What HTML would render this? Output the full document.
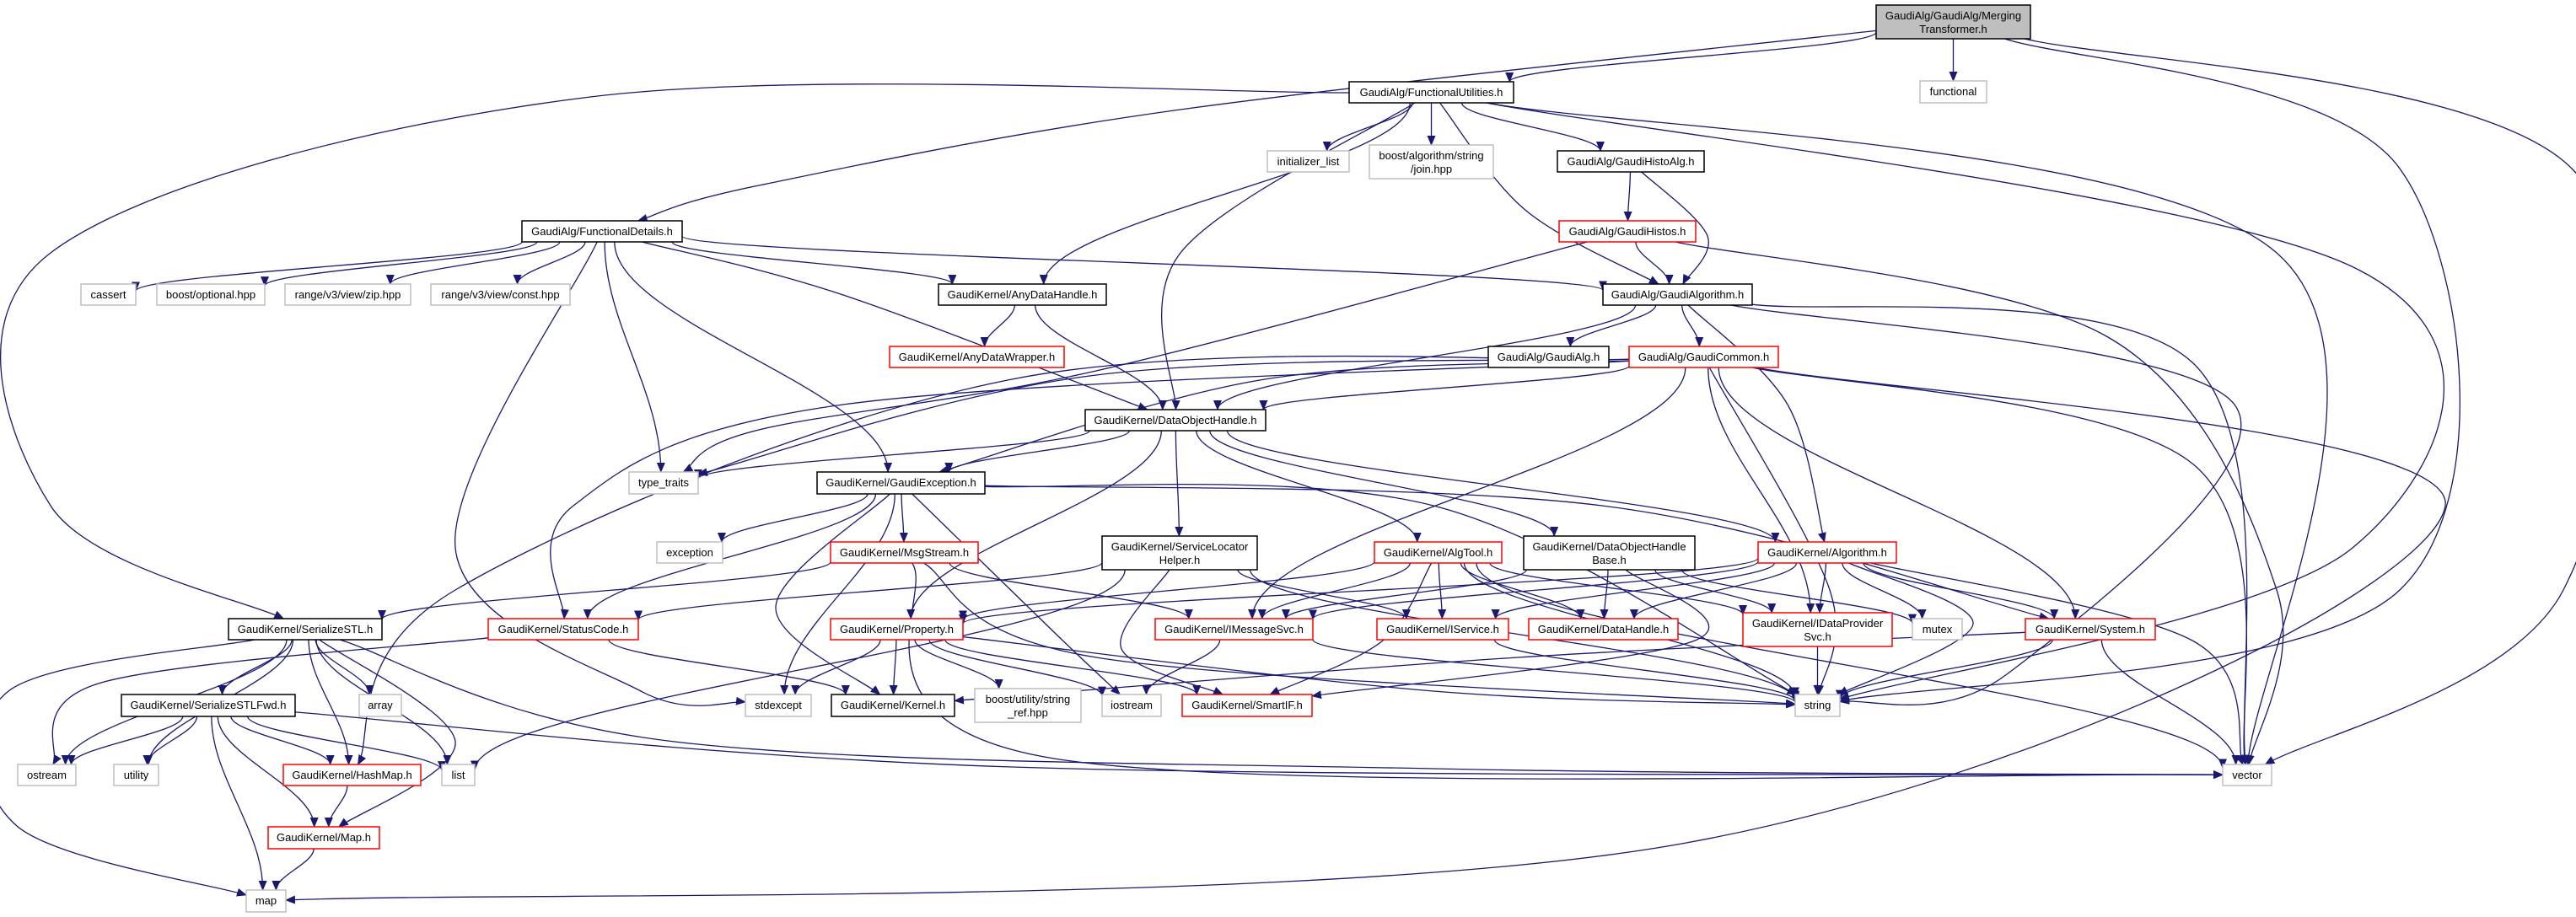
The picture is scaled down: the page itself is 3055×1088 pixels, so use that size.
<!DOCTYPE html>
<html><head><meta charset="utf-8"><style>
html,body{margin:0;padding:0;background:#fff;}
svg{display:block;}
text{font-family:"Liberation Sans",Arial,sans-serif;font-size:13px;fill:#000;}
</style></head><body>
<svg id="g" width="3055" height="1088" viewBox="0 0 3055 1088" xmlns="http://www.w3.org/2000/svg">
<defs><marker id="ah" markerWidth="12" markerHeight="10" refX="11" refY="5" orient="auto" markerUnits="userSpaceOnUse"><path d="M0,0 L12,5 L0,10 z" fill="#191970"/></marker></defs>
<g id="edges" fill="none" stroke="#191970" stroke-width="1.3"></g>
<g id="nodes">
<rect x="2225" y="6" width="183" height="40" fill="#bfbfbf" stroke="#000" stroke-width="1.5"/><text x="2316.5" y="23" text-anchor="middle">GaudiAlg/GaudiAlg/Merging</text><text x="2316.5" y="39" text-anchor="middle">Transformer.h</text>
<rect x="1600" y="97" width="195" height="25" fill="#fff" stroke="#000" stroke-width="1.5"/><text x="1697.5" y="114" text-anchor="middle">GaudiAlg/FunctionalUtilities.h</text>
<rect x="619" y="262" width="190" height="25" fill="#fff" stroke="#000" stroke-width="1.5"/><text x="714" y="279" text-anchor="middle">GaudiAlg/FunctionalDetails.h</text>
<rect x="2277" y="96" width="79" height="26" fill="#fff" stroke="#bfbfbf" stroke-width="1.5"/><text x="2316.5" y="113" text-anchor="middle">functional</text>
<rect x="1503" y="179" width="97" height="25" fill="#fff" stroke="#bfbfbf" stroke-width="1.5"/><text x="1551.5" y="196" text-anchor="middle">initializer_list</text>
<rect x="1624" y="172" width="147" height="40" fill="#fff" stroke="#bfbfbf" stroke-width="1.5"/><text x="1697.5" y="189" text-anchor="middle">boost/algorithm/string</text><text x="1697.5" y="205" text-anchor="middle">/join.hpp</text>
<rect x="1847" y="179" width="174" height="25" fill="#fff" stroke="#000" stroke-width="1.5"/><text x="1934" y="196" text-anchor="middle">GaudiAlg/GaudiHistoAlg.h</text>
<rect x="1849" y="262" width="162" height="25" fill="#fff" stroke="#f00" stroke-width="1.5"/><text x="1930" y="279" text-anchor="middle">GaudiAlg/GaudiHistos.h</text>
<rect x="96" y="337" width="65" height="25" fill="#fff" stroke="#bfbfbf" stroke-width="1.5"/><text x="128.5" y="354" text-anchor="middle">cassert</text>
<rect x="186" y="337" width="128" height="25" fill="#fff" stroke="#bfbfbf" stroke-width="1.5"/><text x="250" y="354" text-anchor="middle">boost/optional.hpp</text>
<rect x="338" y="337" width="149" height="25" fill="#fff" stroke="#bfbfbf" stroke-width="1.5"/><text x="412.5" y="354" text-anchor="middle">range/v3/view/zip.hpp</text>
<rect x="511" y="337" width="165" height="25" fill="#fff" stroke="#bfbfbf" stroke-width="1.5"/><text x="593.5" y="354" text-anchor="middle">range/v3/view/const.hpp</text>
<rect x="1113" y="337" width="199" height="25" fill="#fff" stroke="#000" stroke-width="1.5"/><text x="1212.5" y="354" text-anchor="middle">GaudiKernel/AnyDataHandle.h</text>
<rect x="1901" y="337" width="177" height="25" fill="#fff" stroke="#000" stroke-width="1.5"/><text x="1989.5" y="354" text-anchor="middle">GaudiAlg/GaudiAlgorithm.h</text>
<rect x="1055" y="411" width="207" height="25" fill="#fff" stroke="#f00" stroke-width="1.5"/><text x="1158.5" y="428" text-anchor="middle">GaudiKernel/AnyDataWrapper.h</text>
<rect x="1765" y="411" width="143" height="25" fill="#fff" stroke="#000" stroke-width="1.5"/><text x="1836.5" y="428" text-anchor="middle">GaudiAlg/GaudiAlg.h</text>
<rect x="1932" y="411" width="177" height="25" fill="#fff" stroke="#f00" stroke-width="1.5"/><text x="2020.5" y="428" text-anchor="middle">GaudiAlg/GaudiCommon.h</text>
<rect x="1287" y="486" width="214" height="25" fill="#fff" stroke="#000" stroke-width="1.5"/><text x="1394" y="503" text-anchor="middle">GaudiKernel/DataObjectHandle.h</text>
<rect x="746" y="560" width="82" height="26" fill="#fff" stroke="#bfbfbf" stroke-width="1.5"/><text x="787" y="577" text-anchor="middle">type_traits</text>
<rect x="969" y="560" width="199" height="26" fill="#fff" stroke="#000" stroke-width="1.5"/><text x="1068.5" y="577" text-anchor="middle">GaudiKernel/GaudiException.h</text>
<rect x="779" y="643" width="78" height="25" fill="#fff" stroke="#bfbfbf" stroke-width="1.5"/><text x="818" y="660" text-anchor="middle">exception</text>
<rect x="985" y="643" width="175" height="25" fill="#fff" stroke="#f00" stroke-width="1.5"/><text x="1072.5" y="660" text-anchor="middle">GaudiKernel/MsgStream.h</text>
<rect x="1307" y="636" width="184" height="40" fill="#fff" stroke="#000" stroke-width="1.5"/><text x="1399" y="653" text-anchor="middle">GaudiKernel/ServiceLocator</text><text x="1399" y="669" text-anchor="middle">Helper.h</text>
<rect x="1630" y="643" width="151" height="25" fill="#fff" stroke="#f00" stroke-width="1.5"/><text x="1705.5" y="660" text-anchor="middle">GaudiKernel/AlgTool.h</text>
<rect x="1807" y="636" width="203" height="40" fill="#fff" stroke="#000" stroke-width="1.5"/><text x="1908.5" y="653" text-anchor="middle">GaudiKernel/DataObjectHandle</text><text x="1908.5" y="669" text-anchor="middle">Base.h</text>
<rect x="2085" y="643" width="164" height="25" fill="#fff" stroke="#f00" stroke-width="1.5"/><text x="2167" y="660" text-anchor="middle">GaudiKernel/Algorithm.h</text>
<rect x="271" y="734" width="182" height="25" fill="#fff" stroke="#000" stroke-width="1.5"/><text x="362" y="751" text-anchor="middle">GaudiKernel/SerializeSTL.h</text>
<rect x="579" y="734" width="178" height="25" fill="#fff" stroke="#f00" stroke-width="1.5"/><text x="668" y="751" text-anchor="middle">GaudiKernel/StatusCode.h</text>
<rect x="985" y="734" width="157" height="25" fill="#fff" stroke="#f00" stroke-width="1.5"/><text x="1063.5" y="751" text-anchor="middle">GaudiKernel/Property.h</text>
<rect x="1370" y="734" width="187" height="25" fill="#fff" stroke="#f00" stroke-width="1.5"/><text x="1463.5" y="751" text-anchor="middle">GaudiKernel/IMessageSvc.h</text>
<rect x="1633" y="734" width="156" height="25" fill="#fff" stroke="#f00" stroke-width="1.5"/><text x="1711" y="751" text-anchor="middle">GaudiKernel/IService.h</text>
<rect x="1813" y="734" width="177" height="25" fill="#fff" stroke="#f00" stroke-width="1.5"/><text x="1901.5" y="751" text-anchor="middle">GaudiKernel/DataHandle.h</text>
<rect x="2067" y="727" width="177" height="40" fill="#fff" stroke="#f00" stroke-width="1.5"/><text x="2155.5" y="744" text-anchor="middle">GaudiKernel/IDataProvider</text><text x="2155.5" y="760" text-anchor="middle">Svc.h</text>
<rect x="2268" y="734" width="59" height="25" fill="#fff" stroke="#bfbfbf" stroke-width="1.5"/><text x="2297.5" y="751" text-anchor="middle">mutex</text>
<rect x="2402" y="734" width="154" height="25" fill="#fff" stroke="#f00" stroke-width="1.5"/><text x="2479" y="751" text-anchor="middle">GaudiKernel/System.h</text>
<rect x="144" y="824" width="206" height="26" fill="#fff" stroke="#000" stroke-width="1.5"/><text x="247" y="841" text-anchor="middle">GaudiKernel/SerializeSTLFwd.h</text>
<rect x="426" y="824" width="50" height="26" fill="#fff" stroke="#bfbfbf" stroke-width="1.5"/><text x="451" y="841" text-anchor="middle">array</text>
<rect x="884" y="824" width="78" height="26" fill="#fff" stroke="#bfbfbf" stroke-width="1.5"/><text x="923" y="841" text-anchor="middle">stdexcept</text>
<rect x="986" y="824" width="146" height="26" fill="#fff" stroke="#000" stroke-width="1.5"/><text x="1059" y="841" text-anchor="middle">GaudiKernel/Kernel.h</text>
<rect x="1156" y="817" width="126" height="40" fill="#fff" stroke="#bfbfbf" stroke-width="1.5"/><text x="1219" y="834" text-anchor="middle">boost/utility/string</text><text x="1219" y="850" text-anchor="middle">_ref.hpp</text>
<rect x="1307" y="824" width="70" height="26" fill="#fff" stroke="#bfbfbf" stroke-width="1.5"/><text x="1342" y="841" text-anchor="middle">iostream</text>
<rect x="1402" y="824" width="154" height="26" fill="#fff" stroke="#f00" stroke-width="1.5"/><text x="1479" y="841" text-anchor="middle">GaudiKernel/SmartIF.h</text>
<rect x="2129" y="824" width="53" height="26" fill="#fff" stroke="#bfbfbf" stroke-width="1.5"/><text x="2155.5" y="841" text-anchor="middle">string</text>
<rect x="21" y="907" width="69" height="25" fill="#fff" stroke="#bfbfbf" stroke-width="1.5"/><text x="55.5" y="924" text-anchor="middle">ostream</text>
<rect x="135" y="907" width="53" height="25" fill="#fff" stroke="#bfbfbf" stroke-width="1.5"/><text x="161.5" y="924" text-anchor="middle">utility</text>
<rect x="336" y="907" width="163" height="25" fill="#fff" stroke="#f00" stroke-width="1.5"/><text x="417.5" y="924" text-anchor="middle">GaudiKernel/HashMap.h</text>
<rect x="524" y="907" width="39" height="25" fill="#fff" stroke="#bfbfbf" stroke-width="1.5"/><text x="543.5" y="924" text-anchor="middle">list</text>
<rect x="2636" y="907" width="58" height="25" fill="#fff" stroke="#bfbfbf" stroke-width="1.5"/><text x="2665" y="924" text-anchor="middle">vector</text>
<rect x="318" y="981" width="132" height="26" fill="#fff" stroke="#f00" stroke-width="1.5"/><text x="384" y="998" text-anchor="middle">GaudiKernel/Map.h</text>
<rect x="292" y="1056" width="47" height="26" fill="#fff" stroke="#bfbfbf" stroke-width="1.5"/><text x="315.5" y="1073" text-anchor="middle">map</text>
</g>
</svg>
<script>
var N={MT:[2225,6,2408,46],FU:[1600,97,1795,122],FD:[619,262,809,287],functional:[2277,96,2356,122],init:[1503,179,1600,204],join:[1624,172,1771,212],GHA:[1847,179,2021,204],GH:[1849,262,2011,287],cassert:[96,337,161,362],optional:[186,337,314,362],zip:[338,337,487,362],cnst:[511,337,676,362],ADH:[1113,337,1312,362],GA:[1901,337,2078,362],ADW:[1055,411,1262,436],GAlg:[1765,411,1908,436],GC:[1932,411,2109,436],DOH:[1287,486,1501,511],tt:[746,560,828,586],GE:[969,560,1168,586],exc:[779,643,857,668],MS:[985,643,1160,668],SLH:[1307,636,1491,676],AT:[1630,643,1781,668],DOHB:[1807,636,2010,676],ALG:[2085,643,2249,668],SS:[271,734,453,759],SC:[579,734,757,759],PR:[985,734,1142,759],IMS:[1370,734,1557,759],IS:[1633,734,1789,759],DH:[1813,734,1990,759],IDP:[2067,727,2244,767],mutex:[2268,734,2327,759],SYS:[2402,734,2556,759],SSF:[144,824,350,850],array:[426,824,476,850],stdexcept:[884,824,962,850],KER:[986,824,1132,850],sref:[1156,817,1282,857],iostream:[1307,824,1377,850],SIF:[1402,824,1556,850],string:[2129,824,2182,850],ostream:[21,907,90,932],utility:[135,907,188,932],HM:[336,907,499,932],list:[524,907,563,932],vector:[2636,907,2694,932],MAP:[318,981,450,1007],map:[292,1056,339,1082]};
var E=[
["MT","FU"],["MT","FD",[[1400,130],[900,220]]],["MT","functional"],["MT","string",[[2846,200],[2846,700]]],["MT","vector",[[3050,200],[3040,700]]],
["FU","SS",[[700,115],[60,300],[60,600]]],["FU","ADH"],["FU","DOH",[[1400,300]]],["FU","init"],["FU","join"],["FU","GHA"],["FU","GA",[[1810,250]]],["FU","string",[[2797,320],[2790,650]]],["FU","vector",[[2700,300]]],
["FD","cassert"],["FD","optional"],["FD","zip"],["FD","cnst"],["FD","GA"],["FD","ADH"],["FD","DOH",[[1000,350]]],["FD","GE"],["FD","tt"],["FD","stdexcept",[[540,650],[760,820]]],
["GHA","GH"],["GHA","GA",[[2025,280]]],
["GH","GA"],["GH","tt",[[1300,440],[900,510]]],["GH","vector",[[2500,400],[2700,700]]],
["ADH","ADW"],["ADH","DOH"],
["GA","GAlg"],["GA","GC"],["GA","DOH"],["GA","ALG",[[2120,480]]],["GA","string",[[2650,480],[2380,800]]],["GA","vector",[[2600,430]]],
["GC","DOH"],["GC","GE",[[1500,450]]],["GC","SC",[[1000,480],[680,600]]],["GC","HM",[[1200,450],[540,700]]],["GC","tt",[[1300,445]]],["GC","IMS"],["GC","IDP"],["GC","SYS"],["GC","string",[[2170,700]]],["GC","vector",[[2600,550]]],["GC","map",[[2900,600],[2000,1000]]],
["DOH","tt"],["DOH","GE"],["DOH","SLH"],["DOH","AT"],["DOH","DOHB"],["DOH","ALG"],["DOH","PR"],
["GE","exc"],["GE","MS"],["GE","SC"],["GE","KER",[[920,720]]],["GE","stdexcept"],["GE","iostream",[[1250,750]]],["GE","string",[[1700,600]]],["GE","SYS",[[1900,600]]],
["MS","SS"],["MS","IMS"],["MS","string",[[1300,780]]],["MS","vector",[[1250,900]]],
["SLH","SC"],["SLH","IS"],["SLH","SIF",[[1330,770]]],["SLH","string"],["SLH","list"],
["AT","IMS"],["AT","IS"],["AT","DH"],["AT","IDP"],["AT","PR"],["AT","SIF",[[1640,760]]],["AT","vector"],["AT","string"],
["DOHB","IMS"],["DOHB","DH"],["DOHB","mutex"],["DOHB","IDP"],["DOHB","SIF",[[2010,760]]],
["ALG","IMS"],["ALG","IS"],["ALG","DH"],["ALG","IDP"],["ALG","mutex"],["ALG","SYS"],["ALG","string",[[2340,740]]],["ALG","vector",[[2600,760]]],["ALG","PR"],
["IDP","string"],["SYS","KER",[[1800,780]]],["SYS","string"],["SYS","vector"],
["PR","stdexcept"],["PR","KER"],["PR","sref"],["PR","SIF"],["PR","string",[[1700,820]]],["PR","iostream"],
["IMS","iostream"],["IMS","string"],["IS","string"],
["SC","ostream",[[120,810]]],["SC","KER"],
["SS","ostream"],["SS","utility"],["SS","SSF"],["SS","array"],["SS","list"],["SS","HM"],["SS","MAP",[[540,880]]],["SS","map",[[10,820],[20,980]]],["SS","vector",[[800,880],[1700,912]]],
["SSF","ostream"],["SSF","utility"],["SSF","HM"],["SSF","MAP"],["SSF","list"],["SSF","map"],["SSF","vector",[[1200,910]]],
["HM","MAP"],["MAP","map"]
];
function c(n){var b=N[n];return[(b[0]+b[2])/2,(b[1]+b[3])/2];}
function bp(n,p){var b=N[n],cx=(b[0]+b[2])/2,cy=(b[1]+b[3])/2,dx=p[0]-cx,dy=p[1]-cy,hw=(b[2]-b[0])/2,hh=(b[3]-b[1])/2;
 if(dx==0&&dy==0)return[cx,cy];var t=Math.min(dx!=0?hw/Math.abs(dx):1e9,dy!=0?hh/Math.abs(dy):1e9);return[cx+dx*t,cy+dy*t];}
var g=document.getElementById('edges'),s='';
E.forEach(function(e){var wp=e[2]||[];var a=c(e[0]),b=c(e[1]);
 var first=wp.length?wp[0]:b,last=wp.length?wp[wp.length-1]:a;
 var p0=bp(e[0],first),pn=bp(e[1],last);var pts=[p0].concat(wp,[pn]);var d='M'+p0[0].toFixed(1)+','+p0[1].toFixed(1);
 if(pts.length==2){var my=(p0[1]+pn[1])/2;var dy=pn[1]-p0[1];
   if(Math.abs(dy)>20)d+=' C'+p0[0]+','+(p0[1]+dy*0.35)+' '+pn[0]+','+(pn[1]-dy*0.35)+' '+pn[0]+','+pn[1];
   else d+=' L'+pn[0]+','+pn[1];}
 else{for(var i=0;i<pts.length-1;i++){var P0=pts[Math.max(i-1,0)],P1=pts[i],P2=pts[i+1],P3=pts[Math.min(i+2,pts.length-1)];
   var c1=[P1[0]+(P2[0]-P0[0])/6,P1[1]+(P2[1]-P0[1])/6],c2=[P2[0]-(P3[0]-P1[0])/6,P2[1]-(P3[1]-P1[1])/6];
   d+=' C'+c1[0].toFixed(1)+','+c1[1].toFixed(1)+' '+c2[0].toFixed(1)+','+c2[1].toFixed(1)+' '+P2[0].toFixed(1)+','+P2[1].toFixed(1);}}
 s+='<path d="'+d+'" marker-end="url(#ah)"/>';});
g.innerHTML=s;
</script>
</body></html>
